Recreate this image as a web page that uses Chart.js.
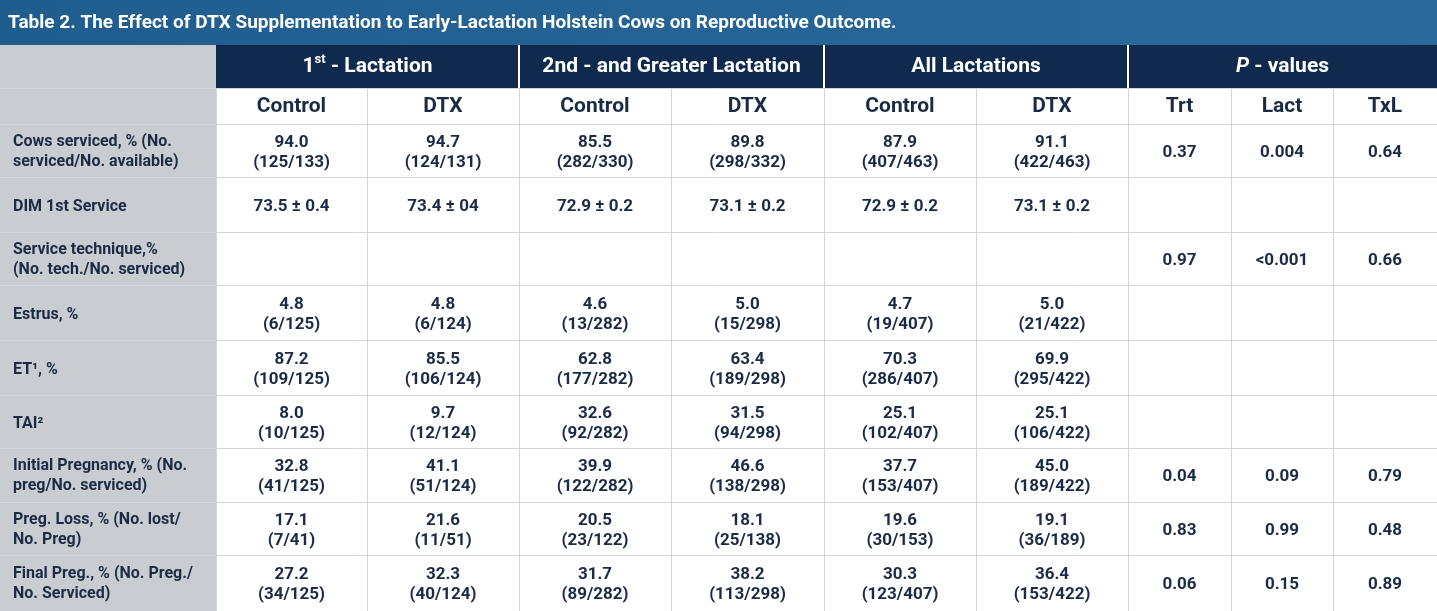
<!DOCTYPE html>
<html><head><meta charset="utf-8">
<script src="https://cdn.jsdelivr.net/npm/chart.js@4"></script>
<style>html,body{margin:0;padding:0;background:#fff}#wrap{width:1437px;height:611px;position:relative}</style>
</head><body><div id="wrap"><canvas id="c"></canvas></div>
<script>
const title = "Table 2. The Effect of DTX Supplementation to Early-Lactation Holstein Cows on Reproductive Outcome.";
const groupHeaders = ["1st - Lactation", "2nd - and Greater Lactation", "All Lactations", "P - values"];
const subHeaders = ["Control","DTX","Control","DTX","Control","DTX","Trt","Lact","TxL"];
const rowLabels = [
 ["Cows serviced, % (No.","serviced/No. available)"],
 ["DIM 1st Service"],
 ["Service technique,%","(No. tech./No. serviced)"],
 ["Estrus, %"],
 ["ET¹, %"],
 ["TAI²"],
 ["Initial Pregnancy, % (No.","preg/No. serviced)"],
 ["Preg. Loss, % (No. lost/","No. Preg)"],
 ["Final Preg., % (No. Preg./","No. Serviced)"]
];
const control1 = [["94.0","(125/133)"],["73.5 ± 0.4"],[],["4.8","(6/125)"],["87.2","(109/125)"],["8.0","(10/125)"],["32.8","(41/125)"],["17.1","(7/41)"],["27.2","(34/125)"]];
const dtx1 = [["94.7","(124/131)"],["73.4 ± 04"],[],["4.8","(6/124)"],["85.5","(106/124)"],["9.7","(12/124)"],["41.1","(51/124)"],["21.6","(11/51)"],["32.3","(40/124)"]];
const control2 = [["85.5","(282/330)"],["72.9 ± 0.2"],[],["4.6","(13/282)"],["62.8","(177/282)"],["32.6","(92/282)"],["39.9","(122/282)"],["20.5","(23/122)"],["31.7","(89/282)"]];
const dtx2 = [["89.8","(298/332)"],["73.1 ± 0.2"],[],["5.0","(15/298)"],["63.4","(189/298)"],["31.5","(94/298)"],["46.6","(138/298)"],["18.1","(25/138)"],["38.2","(113/298)"]];
const controlAll = [["87.9","(407/463)"],["72.9 ± 0.2"],[],["4.7","(19/407)"],["70.3","(286/407)"],["25.1","(102/407)"],["37.7","(153/407)"],["19.6","(30/153)"],["30.3","(123/407)"]];
const dtxAll = [["91.1","(422/463)"],["73.1 ± 0.2"],[],["5.0","(21/422)"],["69.9","(295/422)"],["25.1","(106/422)"],["45.0","(189/422)"],["19.1","(36/189)"],["36.4","(153/422)"]];
const pTrt = ["0.37","","0.97","","","","0.04","0.83","0.06"];
const pLact = ["0.004","","<0.001","","","","0.09","0.99","0.15"];
const pTxL = ["0.64","","0.66","","","","0.79","0.48","0.89"];

const colEdges = [0,216,367,519,671,824,976,1128,1231,1333,1437];
const rowEdges = [124,177,232,285,340,395,448,502,555,611];
const FONT = "Roboto, 'Liberation Sans', sans-serif";
const TXT = "#1b2b45";

const tablePlugin = {
  id:'table',
  afterDraw(chart){
    const ctx = chart.ctx;
    const xs = chart.scales.x, ys = chart.scales.y;
    const X = v => xs.getPixelForValue(v), Y = v => ys.getPixelForValue(v);
    ctx.save();
    ctx.fillStyle="#fff"; ctx.fillRect(0,0,X(1437),Y(611));
    // title bar
    const g = ctx.createLinearGradient(0,0,X(1437),0);
    g.addColorStop(0,"#1f5d8e"); g.addColorStop(1,"#2a6a9c");
    ctx.fillStyle=g; ctx.fillRect(X(0),Y(0),X(1437)-X(0),Y(45)-Y(0));
    ctx.fillStyle="#fff"; ctx.font="bold 19px "+FONT; ctx.textBaseline="middle"; ctx.textAlign="left";
    ctx.fillText(title,X(8),Y(23));
    // left grey column
    ctx.fillStyle="#c9ccd1"; ctx.fillRect(X(0),Y(45),X(216),Y(611)-Y(45));
    // group header
    ctx.fillStyle="#0f2a4d"; ctx.fillRect(X(216),Y(45),X(1437)-X(216),Y(88)-Y(45));
    // grid lines
    ctx.strokeStyle="#d3d6da"; ctx.lineWidth=1;
    for(const r of [88,...rowEdges]){ctx.beginPath();ctx.moveTo(X(0),Y(r)+0.5);ctx.lineTo(X(1437),Y(r)+0.5);ctx.stroke();}
    for(let i=1;i<colEdges.length-1;i++){ctx.beginPath();ctx.moveTo(X(colEdges[i])+0.5,Y(88));ctx.lineTo(X(colEdges[i])+0.5,Y(611));ctx.stroke();}
    ctx.strokeStyle="#ffffff"; ctx.lineWidth=2;
    for(const c of [519,824,1128]){ctx.beginPath();ctx.moveTo(X(c),Y(45));ctx.lineTo(X(c),Y(88));ctx.stroke();}
    // group header texts
    ctx.fillStyle="#fff"; ctx.font="bold 21px "+FONT; ctx.textAlign="center";
    const gy=Y(67);
    // 1st with superscript
    {const cx=(X(216)+X(519))/2; const a="1",s="st",b=" - Lactation";
     ctx.font="bold 21px "+FONT; const wa=ctx.measureText(a).width, wb=ctx.measureText(b).width;
     ctx.font="bold 13px "+FONT; const ws=ctx.measureText(s).width;
     let x0=cx-(wa+ws+wb)/2; ctx.textAlign="left";
     ctx.font="bold 21px "+FONT; ctx.fillText(a,x0,gy);
     ctx.font="bold 13px "+FONT; ctx.fillText(s,x0+wa,gy-7);
     ctx.font="bold 21px "+FONT; ctx.fillText(b,x0+wa+ws,gy);}
    ctx.textAlign="center"; ctx.font="bold 21px "+FONT;
    ctx.fillText(groupHeaders[1],(X(519)+X(824))/2,gy);
    ctx.fillText(groupHeaders[2],(X(824)+X(1128))/2,gy);
    {const cx=(X(1128)+X(1437))/2; ctx.font="italic bold 21px "+FONT; const wp=ctx.measureText("P").width;
     ctx.font="bold 21px "+FONT; const wr=ctx.measureText(" - values").width; let x0=cx-(wp+wr)/2;
     ctx.textAlign="left"; ctx.font="italic bold 21px "+FONT; ctx.fillText("P",x0,gy);
     ctx.font="bold 21px "+FONT; ctx.fillText(" - values",x0+wp,gy);}
    // subheaders
    ctx.fillStyle=TXT; ctx.textAlign="center"; ctx.font="bold 21px "+FONT;
    subHeaders.forEach((s,i)=>ctx.fillText(s,(X(colEdges[i+1])+X(colEdges[i+2]))/2,Y(107)));
    // rows
    const cols=[control1,dtx1,control2,dtx2,controlAll,dtxAll];
    const pcols=[pTrt,pLact,pTxL];
    for(let r=0;r<rowLabels.length;r++){
      const t=Y(rowEdges[r]), b=Y(rowEdges[r+1]), cy=(t+b)/2;
      ctx.fillStyle=TXT; ctx.font="bold 16px "+FONT; ctx.textAlign="left";
      const L=rowLabels[r];
      if(L.length===1) ctx.fillText(L[0],X(13),cy+2);
      else {ctx.fillText(L[0],X(13),cy-9);ctx.fillText(L[1],X(13),cy+11);}
      ctx.font="bold 17px "+FONT; ctx.textAlign="center";
      cols.forEach((col,i)=>{
        const cx=(X(colEdges[i+1])+X(colEdges[i+2]))/2, v=col[r];
        if(v.length===1) ctx.fillText(v[0],cx,cy+2);
        else if(v.length===2){ctx.fillText(v[0],cx,cy-8);ctx.fillText(v[1],cx,cy+12);}
      });
      pcols.forEach((col,i)=>{
        const cx=(X(colEdges[i+7])+X(colEdges[i+8]))/2;
        if(col[r]) ctx.fillText(col[r],cx,cy+2);
      });
    }
    ctx.restore();
  }
};
new Chart(document.getElementById('c'),{
  type:'scatter',
  data:{datasets:[{data:[]}]},
  options:{responsive:true,maintainAspectRatio:false,animation:false,
    layout:{padding:0},
    plugins:{legend:{display:false},tooltip:{enabled:false}},
    scales:{x:{type:'linear',min:0,max:1437,display:false},y:{type:'linear',min:0,max:611,reverse:true,display:false}}},
  plugins:[tablePlugin]
});
</script></body></html>
